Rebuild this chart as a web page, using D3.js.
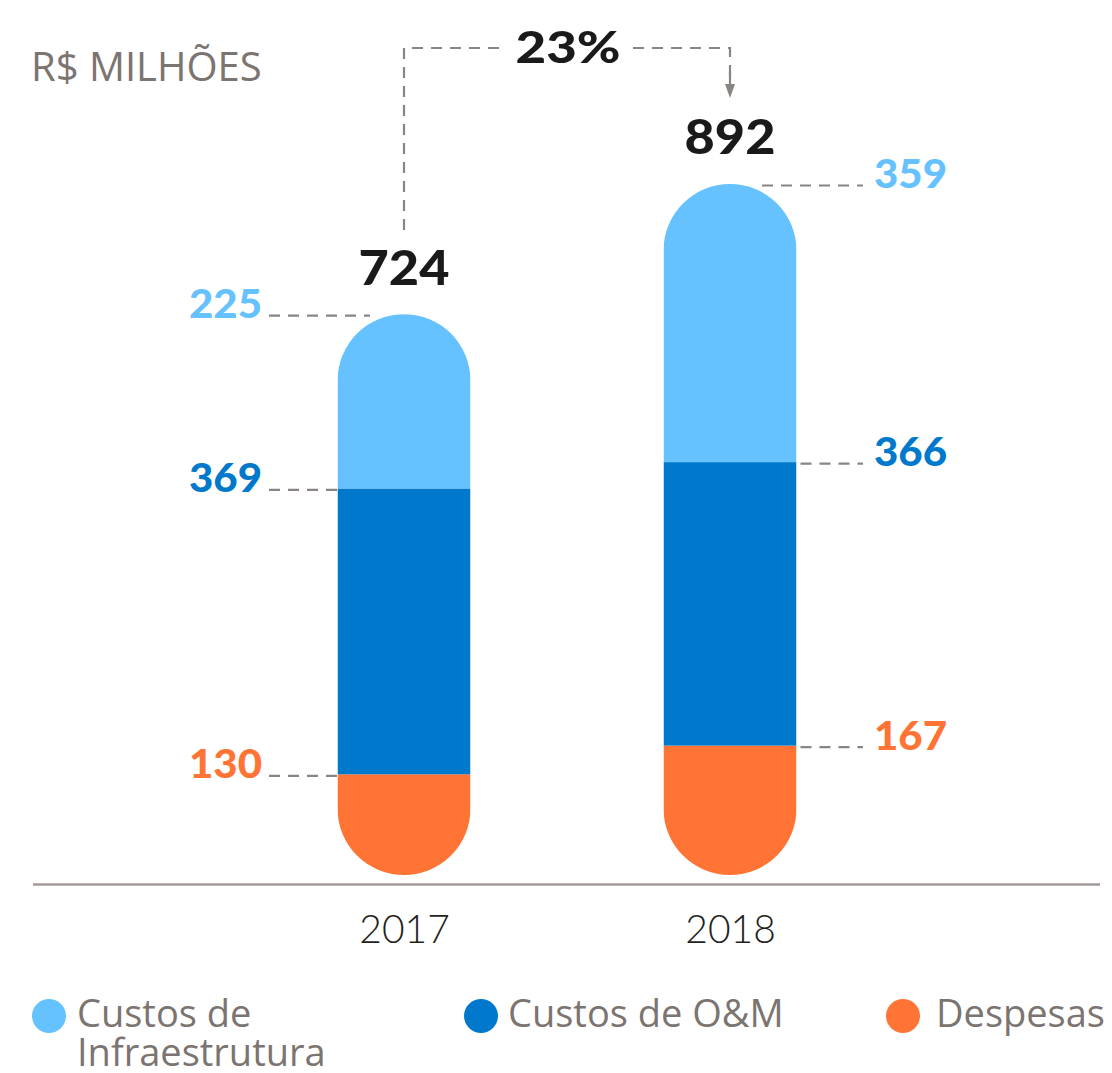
<!DOCTYPE html>
<html>
<head>
<meta charset="utf-8">
<script src="https://cdn.jsdelivr.net/npm/d3@7"></script>
<style>
  html, body { margin: 0; padding: 0; background: #fff; }
  svg { display: block; }
</style>
</head>
<body>
<script>
// ---- data ----
const years = ["2017", "2018"];
const infra = [225, 359];
const om = [369, 366];
const despesas = [130, 167];
const totals = [724, 892];
const growthLabel = "23%";
const unitLabel = "R$ MILHÕES";
const seriesNames = ["Custos de Infraestrutura", "Custos de O&M", "Despesas"];
const legendLines = [["Custos de", "Infraestrutura"], ["Custos de O&M"], ["Despesas"]];
const colors = ["#66c1ff", "#0079cc", "#ff7434"];

const W = 1112, H = 1073;
const svg = d3.select("body").append("svg").attr("width", W).attr("height", H);

const x = d3.scalePoint().domain(years).range([404, 730]);
const y = d3.scaleLinear().domain([0, 892]).range([875, 184]);
const barW = 133;

const dashColor = "#8a8581";
const numFont = "Lato, 'Open Sans', sans-serif";

function stretch(sel, f) {
  sel.each(function () {
    const L = this.getComputedTextLength();
    d3.select(this).attr("textLength", L * f).attr("lengthAdjust", "spacingAndGlyphs");
  });
}

// stacks: bottom despesas, then om, then infra
const stackData = years.map((yr, i) => {
  const segs = [];
  let base = 0;
  [[despesas[i], 2], [om[i], 1], [infra[i], 0]].forEach(([v, s]) => {
    segs.push({ yr, s, y0: base, y1: base + v, v });
    base += v;
  });
  return { yr, i, segs, total: base };
});

// clip paths (pill shapes)
const defs = svg.append("defs");
stackData.forEach(d => {
  defs.append("clipPath").attr("id", "clip" + d.i)
    .append("rect")
    .attr("x", x(d.yr) - barW / 2)
    .attr("y", y(d.total))
    .attr("width", barW)
    .attr("height", y(0) - y(d.total))
    .attr("rx", barW / 2).attr("ry", barW / 2);
});

stackData.forEach(d => {
  const g = svg.append("g").attr("clip-path", `url(#clip${d.i})`);
  g.selectAll("rect").data(d.segs).join("rect")
    .attr("x", x(d.yr) - barW / 2)
    .attr("width", barW)
    .attr("y", s => y(s.y1))
    .attr("height", s => y(s.y0) - y(s.y1))
    .attr("fill", s => colors[s.s]);
});

// axis baseline
svg.append("line").attr("x1", 33).attr("x2", 1100)
  .attr("y1", 884.5).attr("y2", 884.5)
  .attr("stroke", "#a09b98").attr("stroke-width", 2.5);

// year labels via axis
const axisG = svg.append("g").attr("transform", "translate(0,884)")
  .call(d3.axisBottom(x).tickSize(0).tickPadding(0));
axisG.select(".domain").remove();
axisG.selectAll("text")
  .attr("y", 59).attr("dy", null)
  .attr("font-family", "Lato, sans-serif")
  .attr("font-weight", 300)
  .attr("font-size", 39)
  .attr("fill", "#231f20");

// value labels with dashed leaders
stackData.forEach(d => {
  const left = d.i === 0;
  const cx = x(d.yr);
  d.segs.forEach(s => {
    const yy = y(s.y1) + 1.5;
    let x1, x2, tx;
    const isTop = s.s === 0;
    if (left) {
      x1 = 269; x2 = isTop ? cx - 34 : cx - barW / 2;
      tx = 262;
    } else {
      x1 = isTop ? cx + 32 : cx + barW / 2 + 4; x2 = 863;
      tx = 874;
    }
    svg.append("line").attr("x1", x1).attr("x2", x2)
      .attr("y1", yy).attr("y2", yy)
      .attr("stroke", dashColor).attr("stroke-width", 2.2)
      .attr("stroke-dasharray", "11,8");
    svg.append("text")
      .attr("x", tx).attr("y", yy + 2.5)
      .attr("text-anchor", left ? "end" : "start")
      .attr("font-family", numFont).attr("font-weight", 900)
      .attr("font-size", 40)
      .attr("fill", colors[s.s])
      .text(s.v)
      .call(stretch, 1.05);
  });
  // total
  svg.append("text")
    .attr("x", cx).attr("y", left ? 285 : 154)
    .attr("text-anchor", "middle")
    .attr("font-family", numFont).attr("font-weight", 900)
    .attr("font-size", 47).attr("fill", "#1a1a1a")
    .text(totals[d.i])
    .call(stretch, 1.11);
});

// growth annotation
const ax1 = x(years[0]), ax2 = x(years[1]);
const topY = 48;
svg.append("path")
  .attr("d", `M${ax1},230 L${ax1},${topY} L503,${topY}`)
  .attr("fill", "none").attr("stroke", dashColor).attr("stroke-width", 2.2)
  .attr("stroke-dasharray", "11,8");
svg.append("path")
  .attr("d", `M633,${topY} L${ax2},${topY} L${ax2},82`)
  .attr("fill", "none").attr("stroke", dashColor).attr("stroke-width", 2.2)
  .attr("stroke-dasharray", "11,8");
svg.append("path")
  .attr("d", `M${ax2 - 5},84 L${ax2 + 5},84 L${ax2},98 Z`)
  .attr("fill", dashColor);
svg.append("line").attr("x1", ax2).attr("x2", ax2).attr("y1", 72).attr("y2", 86)
  .attr("stroke", dashColor).attr("stroke-width", 2.2);
svg.append("text")
  .attr("x", 568).attr("y", 63)
  .attr("text-anchor", "middle")
  .attr("font-family", numFont).attr("font-weight", 900)
  .attr("font-size", 44).attr("fill", "#1a1a1a")
  .text(growthLabel)
  .call(stretch, 1.2);

// unit label
svg.append("text")
  .attr("x", 31).attr("y", 81)
  .attr("font-family", "'Open Sans', sans-serif").attr("font-weight", 400)
  .attr("font-size", 40).attr("fill", "#7b7470")
  .text(unitLabel);

// legend
const legX = [49, 481, 903];
const legTextX = [77, 508, 936];
seriesNames.forEach((name, i) => {
  svg.append("circle").attr("cx", legX[i]).attr("cy", 1016).attr("r", 17)
    .attr("fill", colors[i]);
  const t = svg.append("text")
    .attr("x", legTextX[i]).attr("y", 1027)
    .attr("font-family", "'Open Sans', sans-serif").attr("font-weight", 400)
    .attr("font-size", 38).attr("fill", "#7b7470");
  legendLines[i].forEach((ln, k) => {
    t.append("tspan").attr("x", legTextX[i]).attr("dy", k === 0 ? 0 : 39).text(ln);
  });
});
</script>
</body>
</html>
